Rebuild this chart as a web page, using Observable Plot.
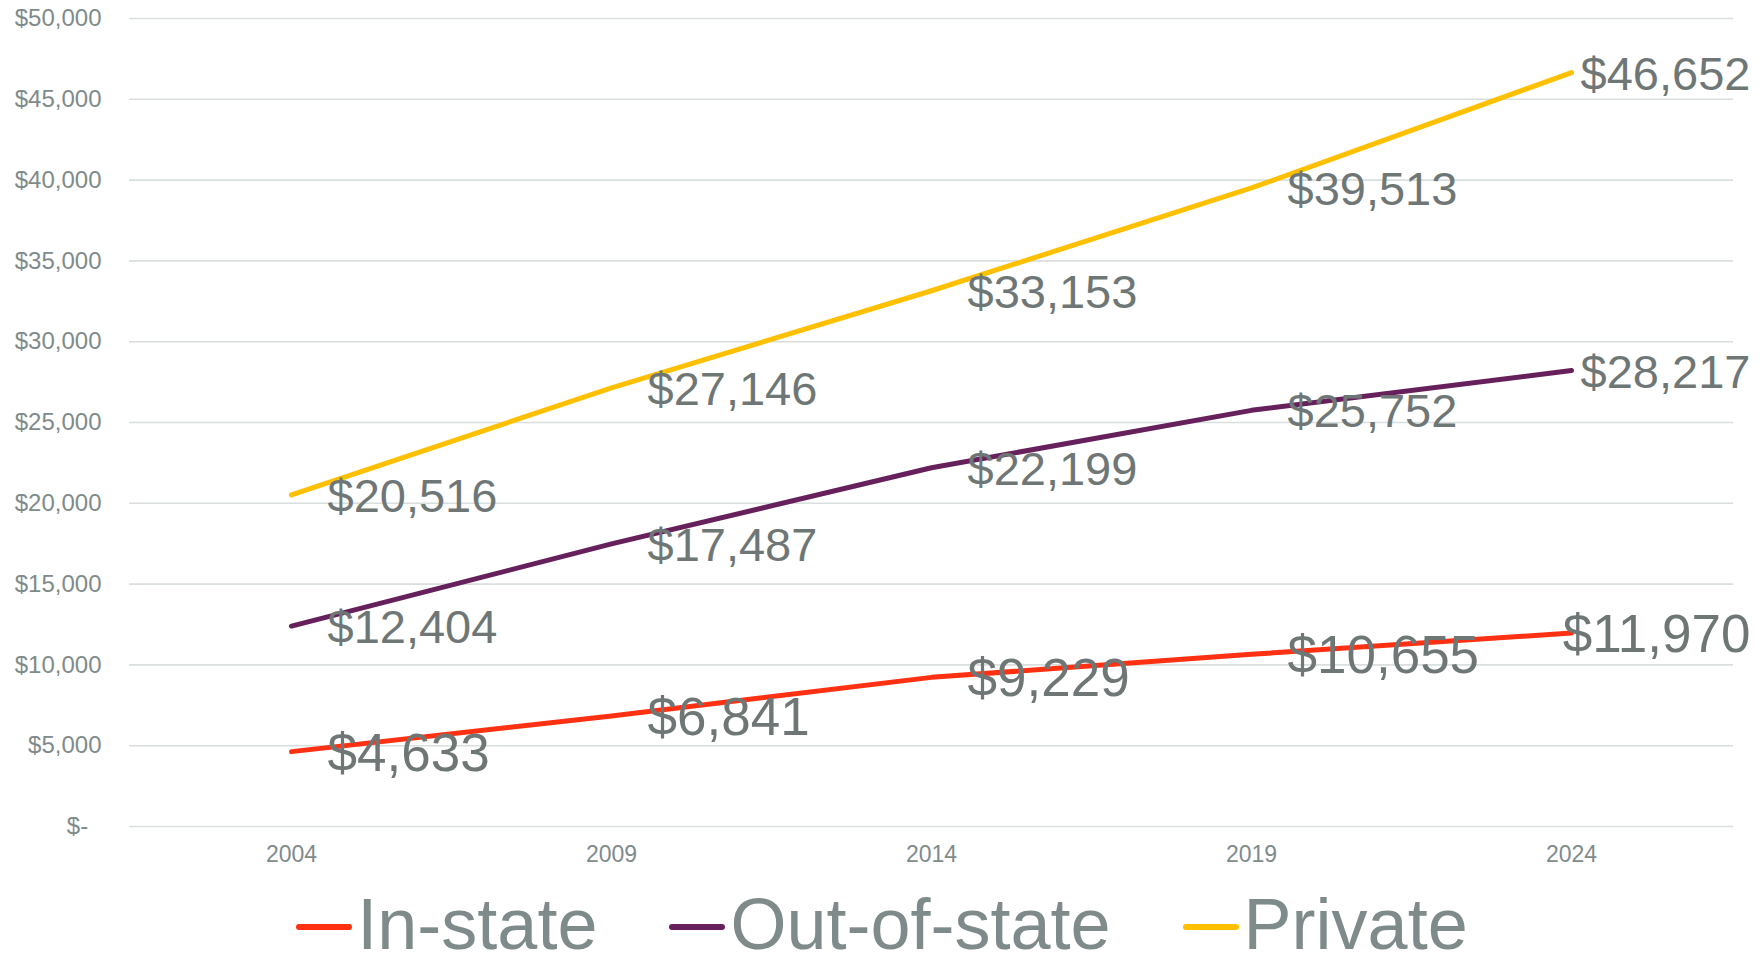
<!DOCTYPE html>
<html>
<head>
<meta charset="utf-8">
<script src="https://cdn.jsdelivr.net/npm/d3@7"></script>
<script src="https://cdn.jsdelivr.net/npm/@observablehq/plot@0.6"></script>
<style>
  html, body { margin: 0; padding: 0; background: #ffffff; }
  body { width: 1764px; height: 964px; position: relative; overflow: hidden; font-family: "Liberation Sans", Arial, sans-serif; }
  #chart { position: absolute; left: 0; top: 0; }
  #legend { position: absolute; left: 0; top: 895px; width: 1764px; display: flex; justify-content: center; align-items: center; font-size: 72px; line-height: 58px; height: 58px; color: #7f8a8a; }
  .item { display: flex; align-items: center; }
  .item + .item { margin-left: 72px; }
  .sw { width: 56px; height: 6px; border-radius: 3px; margin-right: 5px; margin-top: 6px; }
</style>
</head>
<body>
<div id="chart"></div>
<div id="legend"></div>
<script>
const years = ["2004", "2009", "2014", "2019", "2024"];
const seriesNames = ["In-state", "Out-of-state", "Private"];
const inState = [4633, 6841, 9229, 10655, 11970];
const outOfState = [12404, 17487, 22199, 25752, 28217];
const privateTuition = [20516, 27146, 33153, 39513, 46652];
const yTicks = [0, 5000, 10000, 15000, 20000, 25000, 30000, 35000, 40000, 45000, 50000];
const colors = ["#ff3112", "#66205c", "#ffc000"];
const labelSizes = [53, 47, 47];

const seriesValues = [inState, outOfState, privateTuition];
const data = seriesNames.flatMap((s, i) => years.map((y, j) => ({series: s, year: y, value: seriesValues[i][j], last: j === years.length - 1})));

const fmt = d => d === 0 ? "$-\u00a0\u00a0" : "$" + d3.format(",")(d);

const marks = [
  Plot.gridY(yTicks, {stroke: "#d9dede", strokeOpacity: 1, strokeWidth: 1.6}),
  Plot.axisY(yTicks, {tickSize: 0, tickPadding: 28, tickFormat: fmt, fontSize: 24, fill: "#7f8b8b", label: null}),
  Plot.axisX({tickSize: 0, tickPadding: 19, fontSize: 23, fill: "#7f8b8b", label: null})
];
seriesNames.forEach((s, i) => {
  marks.push(Plot.line(data.filter(d => d.series === s), {x: "year", y: "value", stroke: colors[i], strokeWidth: 5, strokeLinecap: "round", strokeLinejoin: "round"}));
});
seriesNames.forEach((s, i) => {
  const rows = data.filter(d => d.series === s);
  marks.push(Plot.text(rows.filter(d => !d.last), {x: "year", y: "value", text: d => fmt(d.value), textAnchor: "start", dx: 36, dy: 2, fontSize: labelSizes[i], fill: "#6f7776"}));
  marks.push(Plot.text(rows.filter(d => d.last), {x: "year", y: "value", text: d => fmt(d.value), textAnchor: "end", dx: 179, dy: 2, fontSize: labelSizes[i], fill: "#6f7776"}));
});

const chart = Plot.plot({
  width: 1764,
  height: 880,
  marginLeft: 129,
  marginRight: 31,
  marginTop: 18,
  marginBottom: 54,
  style: {fontFamily: "'Liberation Sans', Arial, sans-serif", background: "transparent", overflow: "visible"},
  x: {type: "point", domain: years, padding: 0.5},
  y: {domain: [0, 50000]},
  marks
});
document.getElementById("chart").appendChild(chart);

const legend = document.getElementById("legend");
seriesNames.forEach((s, i) => {
  const item = document.createElement("div");
  item.className = "item";
  const sw = document.createElement("div");
  sw.className = "sw";
  sw.style.background = colors[i];
  const t = document.createElement("span");
  t.textContent = s;
  item.appendChild(sw);
  item.appendChild(t);
  legend.appendChild(item);
});
</script>
</body>
</html>
